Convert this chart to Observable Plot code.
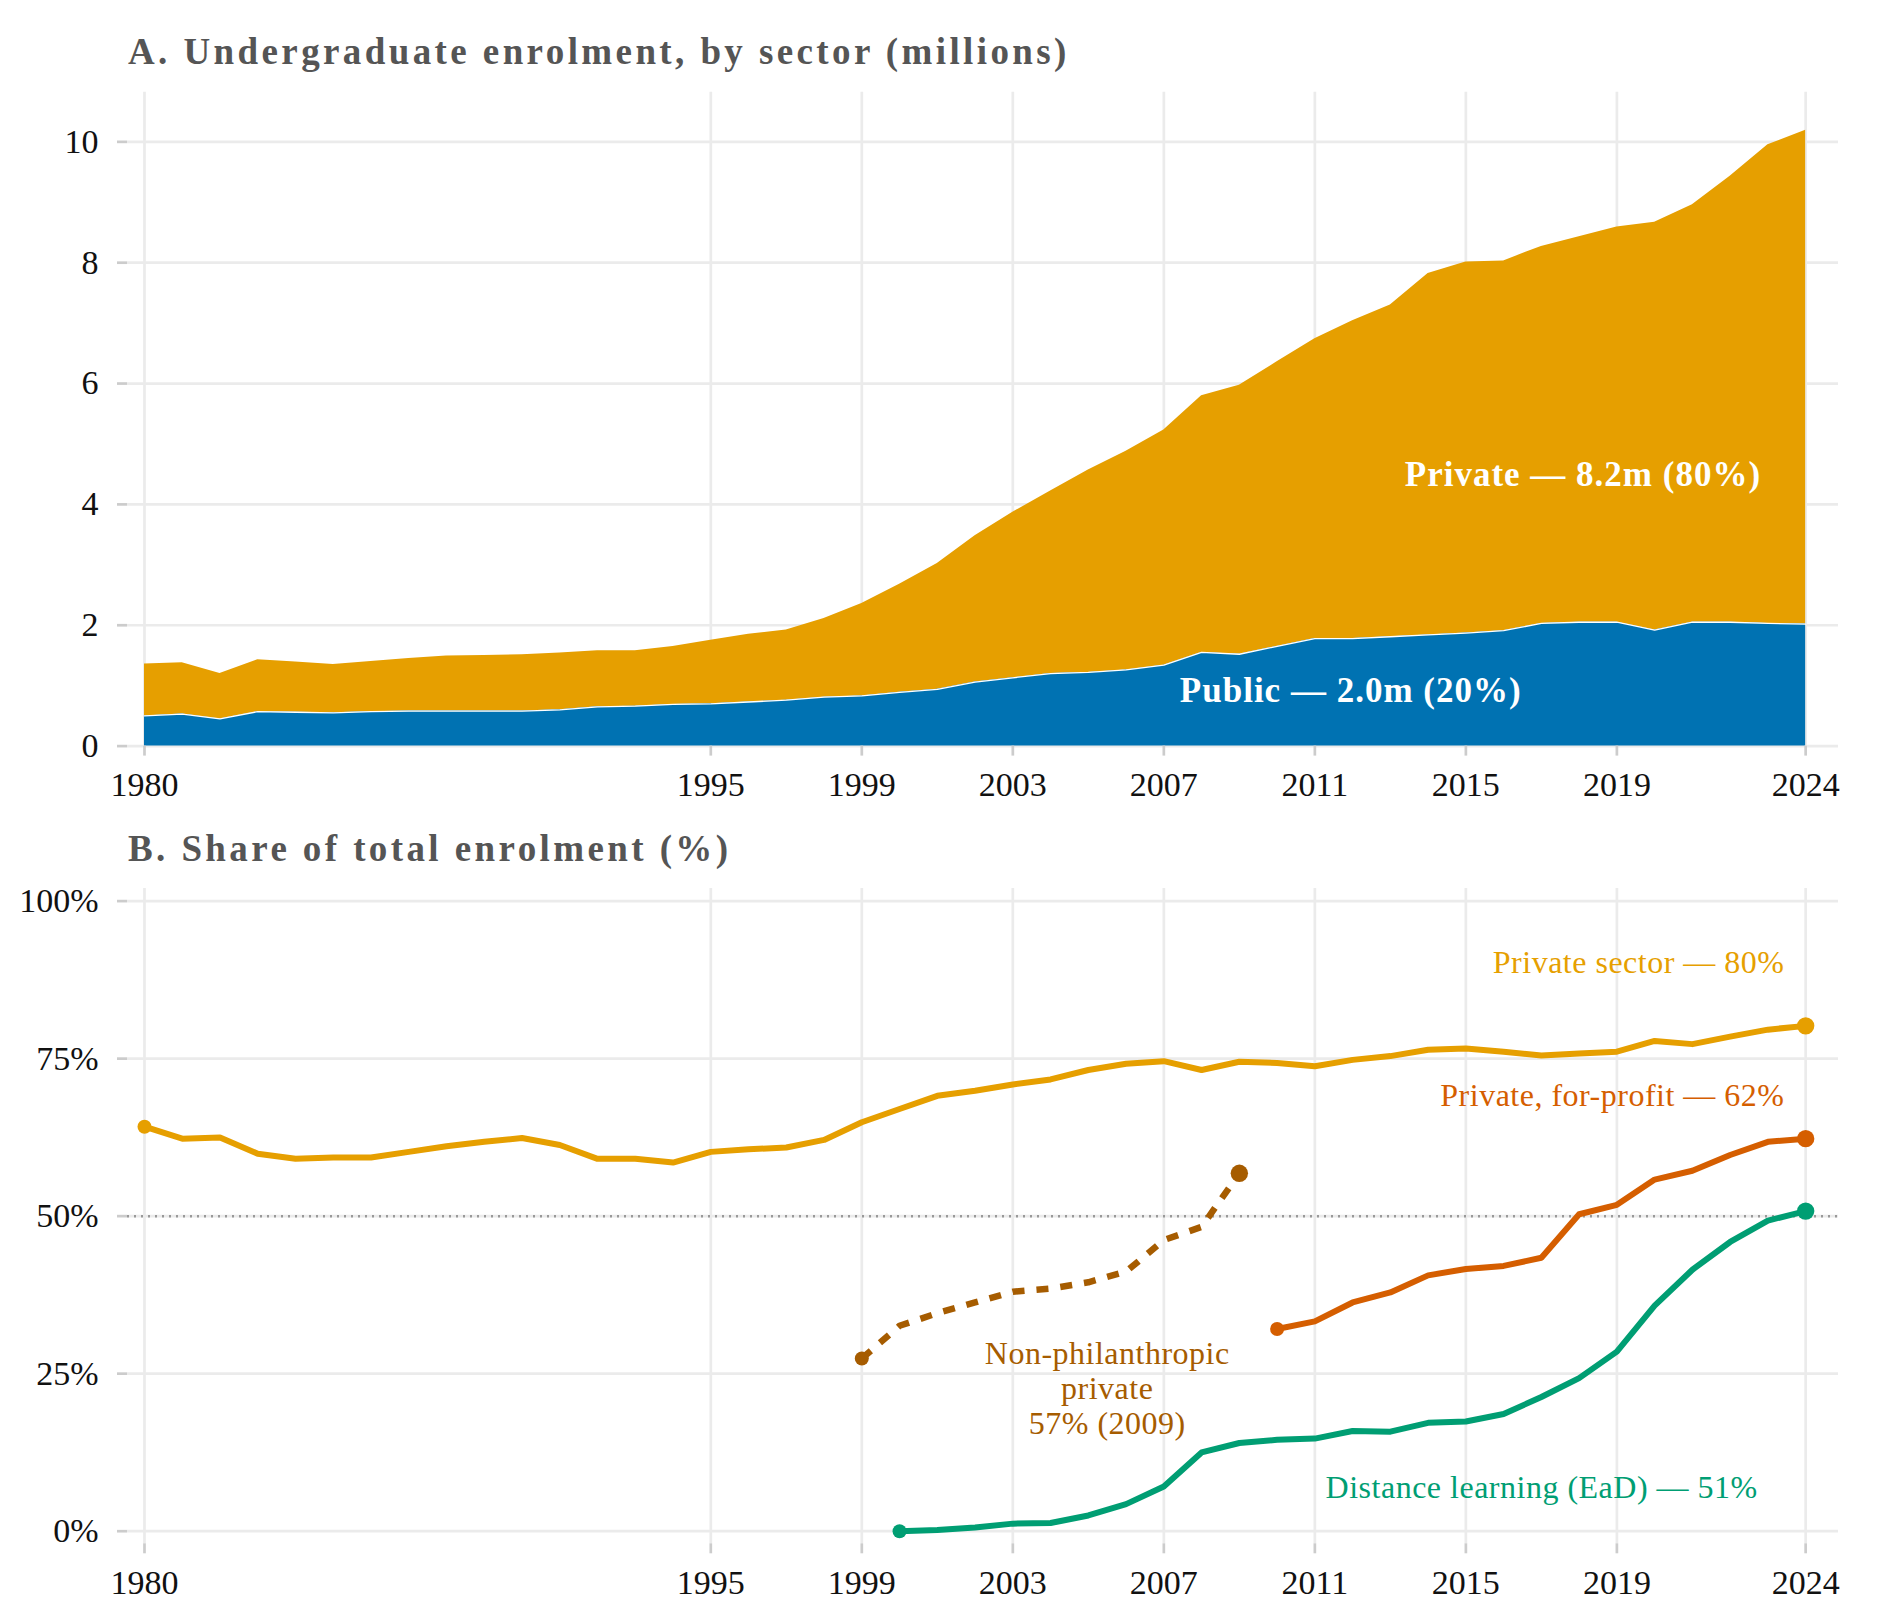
<!DOCTYPE html>
<html>
<head>
<meta charset="utf-8">
<script src="https://cdn.jsdelivr.net/npm/d3@7"></script>
<script src="https://cdn.jsdelivr.net/npm/@observablehq/plot@0.6"></script>
<style>
  body { margin: 0; background: #fff; }
  #wrap { position: relative; width: 1880px; height: 1620px; overflow: hidden; background: #fff; font-family: "Liberation Serif", serif; }
  .ttl { position: absolute; left: 128px; font-weight: bold; font-size: 37px; line-height: 37px; color: #555; letter-spacing: 3.4px; white-space: nowrap; font-family: "Liberation Serif", serif; }
  .pan { position: absolute; left: 0; width: 1880px; }
</style>
</head>
<body>
<div id="wrap">
  <div class="ttl" style="top:33px">A. Undergraduate enrolment, by sector (millions)</div>
  <div class="pan" id="pA" style="top:80px"></div>
  <div class="ttl" style="top:830px">B. Share of total enrolment (%)</div>
  <div class="pan" id="pB" style="top:870px"></div>
</div>
<script>
// ---------------- DATA ----------------
const years = [1980,1981,1982,1983,1984,1985,1986,1987,1988,1989,
               1990,1991,1992,1993,1994,1995,1996,1997,1998,1999,
               2000,2001,2002,2003,2004,2005,2006,2007,2008,2009,
               2010,2011,2012,2013,2014,2015,2016,2017,2018,2019,
               2020,2021,2022,2023,2024];
// total undergraduate enrolment (millions)
const totalEnrol = [1.36,1.38,1.20,1.43,1.39,1.35,1.40,1.45,1.49,1.50,
                    1.51,1.54,1.58,1.58,1.65,1.75,1.85,1.92,2.11,2.36,
                    2.68,3.02,3.48,3.87,4.22,4.57,4.88,5.23,5.80,5.97,
                    6.36,6.74,7.04,7.30,7.82,8.01,8.03,8.27,8.43,8.59,
                    8.67,8.96,9.43,9.95,10.19];
// public enrolment (millions)
const publicEnrol = [0.50,0.53,0.45,0.57,0.56,0.55,0.57,0.58,0.58,0.58,
                     0.58,0.60,0.65,0.66,0.69,0.70,0.73,0.76,0.81,0.83,
                     0.89,0.94,1.06,1.13,1.20,1.22,1.26,1.34,1.55,1.52,
                     1.65,1.78,1.78,1.81,1.84,1.87,1.91,2.03,2.05,2.05,
                     1.92,2.05,2.05,2.03,2.02];
// shares of total enrolment (%)
const privateShare = [64.2,62.3,62.5,59.9,59.1,59.3,59.3,60.2,61.1,61.8,
                      62.4,61.3,59.1,59.1,58.5,60.2,60.6,60.9,62.1,64.9,
                      67.0,69.1,69.9,70.9,71.7,73.2,74.2,74.6,73.2,74.5,
                      74.3,73.8,74.8,75.4,76.4,76.6,76.1,75.5,75.8,76.1,
                      77.8,77.3,78.5,79.6,80.2];
const nonPhilYears = years.slice(19, 30);   // 1999–2009
const nonPhilShare = [27.4,32.6,34.6,36.3,38.0,38.5,39.5,41.2,46.2,48.3,56.8];
const forProfitYears = years.slice(30);     // 2010–2024
const forProfitShare = [32.1,33.3,36.3,37.9,40.6,41.6,42.1,43.4,50.3,51.8,55.8,57.2,59.7,61.8,62.3];
const distanceYears = years.slice(20);      // 2000–2024
const distanceShare = [0.0,0.2,0.6,1.2,1.3,2.5,4.3,7.1,12.5,14.0,14.5,14.7,15.9,15.8,17.2,17.4,18.6,21.3,24.3,28.5,35.8,41.5,45.9,49.3,50.8];

const xTicks = [1980,1995,1999,2003,2007,2011,2015,2019,2024];
const yTicksA = [0,2,4,6,8,10];
const yTicksB = [0,25,50,75,100];

// ---------------- STYLE ----------------
const FONT = "Liberation Serif";
const C = {priv: "#E69F00", pub: "#0072B2", fp: "#D55E00", dl: "#009E73", np: "#A65C00"};
const GRID = {stroke: "#EBEBEB", strokeOpacity: 1, strokeWidth: 2.7};
const TICK = {stroke: "#CCCCCC", strokeWidth: 2.7, tickSize: 10, fontSize: 34, fontFamily: FONT, fill: "#111"};
const xDomain = [1979.55, 2024.87];
const common = {
  width: 1880, marginLeft: 127, marginRight: 42,
  style: {fontFamily: FONT, fontSize: "34px", background: "transparent", overflow: "visible"}
};

// ---------------- PANEL A ----------------
const rowsA = years.map((year, i) => ({year, total: totalEnrol[i], pub: publicEnrol[i]}));
const labA = [
  {x: 2018.1, y: 4.49, t: "Private — 8.2m (80%)"},
  {x: 2011.95, y: 0.91, t: "Public — 2.0m (20%)"}
];
const plotA = Plot.plot({
  ...common, height: 740, marginTop: 11.8, marginBottom: 74.4,
  x: {domain: xDomain, label: null},
  y: {domain: [0, 10.82], label: null},
  marks: [
    Plot.gridX(xTicks, GRID),
    Plot.gridY(yTicksA, GRID),
    Plot.areaY(rowsA, {x: "year", y1: "pub", y2: "total", fill: C.priv}),
    Plot.areaY(rowsA, {x: "year", y1: 0, y2: "pub", fill: C.pub}),
    Plot.lineY(rowsA, {x: "year", y: "pub", stroke: "white", strokeWidth: 1.3}),
    Plot.axisX(xTicks, {...TICK, tickPadding: 16, tickFormat: d => String(d)}),
    Plot.axisY(yTicksA, {...TICK, tickPadding: 19, tickFormat: d => String(d)}),
    Plot.text(labA, {x: "x", y: "y", text: "t", fill: "white", fontWeight: "bold", fontSize: 35, fontFamily: FONT})
  ]
});
document.getElementById("pA").appendChild(plotA);

// ---------------- PANEL B ----------------
const series = [
  {yrs: years, vals: privateShare, color: C.priv, dash: null, w: 6},
  {yrs: nonPhilYears, vals: nonPhilShare, color: C.np, dash: "12 12", w: 6.5},
  {yrs: forProfitYears, vals: forProfitShare, color: C.fp, dash: null, w: 6},
  {yrs: distanceYears, vals: distanceShare, color: C.dl, dash: null, w: 6}
];
const lineMarks = series.map(s => Plot.line(s.yrs.map((y, i) => ({x: y, v: s.vals[i]})), {
  x: "x", y: "v", stroke: s.color, strokeWidth: s.w,
  strokeDasharray: s.dash, strokeLinecap: s.dash ? "butt" : "round", strokeLinejoin: "round"
}));
const startDots = series.map(s => ({x: s.yrs[0], v: s.vals[0], c: s.color}));
const endDots = series.map(s => ({x: s.yrs[s.yrs.length - 1], v: s.vals[s.vals.length - 1], c: s.color}));
const labB = [
  {x: 2023.44, y: 90.4, t: "Private sector — 80%", c: C.priv, a: "end"},
  {x: 2023.44, y: 69.3, t: "Private, for-profit — 62%", c: C.fp, a: "end"},
  {x: 2022.73, y: 7.0, t: "Distance learning (EaD) — 51%", c: C.dl, a: "end"},
  {x: 2005.5, y: 22.8, t: "Non-philanthropic\nprivate\n57% (2009)", c: C.np, a: "middle"}
];
const plotB = Plot.plot({
  ...common, height: 750, marginTop: 18, marginBottom: 76.7,
  x: {domain: xDomain, label: null},
  y: {domain: [-2, 102], label: null},
  marks: [
    Plot.gridX(xTicks, GRID),
    Plot.gridY(yTicksB, GRID),
    Plot.ruleY([50], {stroke: "#999999", strokeWidth: 2.5, strokeDasharray: "2 5"}),
    ...lineMarks,
    Plot.dot(startDots, {x: "x", y: "v", r: 7, fill: "c", stroke: null}),
    Plot.dot(endDots, {x: "x", y: "v", r: 8.7, fill: "c", stroke: null}),
    Plot.axisX(xTicks, {...TICK, tickPadding: 16, tickFormat: d => String(d)}),
    Plot.axisY(yTicksB, {...TICK, tickPadding: 19, tickFormat: d => d + "%"}),
    ...labB.map(l => Plot.text([l], {x: "x", y: "y", text: "t", fill: l.c, textAnchor: l.a,
      fontSize: 32, fontFamily: FONT, lineHeight: 1.1}))
  ]
});
document.getElementById("pB").appendChild(plotB);

// letter spacing tweaks for annotation text (font metrics closer to reference)
d3.select(plotA).selectAll('g[aria-label="text"] text').style("letter-spacing", "1px");
d3.select(plotB).selectAll('g[aria-label="text"] text').style("letter-spacing", "0.5px");
</script>
</body>
</html>
